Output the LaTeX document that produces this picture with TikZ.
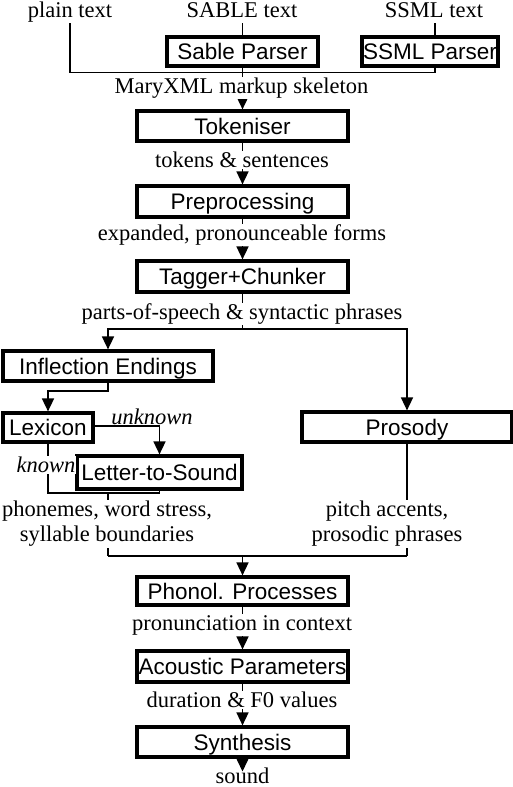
\documentclass[tikz,border=0pt]{standalone}
\usepackage{fontspec}
\setmainfont{Liberation Serif}
\setsansfont{Liberation Sans}
\usetikzlibrary{arrows.meta}
\begin{document}
\begin{tikzpicture}[x=1pt,y=-1pt,
  box/.style={draw, line width=3.2pt, font=\sffamily\fontsize{22.5}{25}\selectfont, inner sep=0pt, text height=16pt, text depth=0pt, anchor=center},
  conn/.style={line width=1.6pt},
  arr/.style={conn, -{Triangle[width=12pt,length=13pt]}},
  lbl/.style={fill=white, inner sep=1pt, font=\fontsize{22.5}{25}\selectfont, align=center},
  ilbl/.style={lbl, font=\itshape\fontsize{22.5}{25}\selectfont},
  tlbl/.style={inner sep=0pt, font=\fontsize{22.5}{25}\selectfont}]
\useasboundingbox (0,0) rectangle (512,787);
% top inputs
\node[tlbl, anchor=base] (pt) at (70,17.5) {plain text};
\node[tlbl, anchor=base] (st) at (242,17.5) {SABLE text};
\node[tlbl, anchor=base] (sst) at (434,17.5) {SSML text};
\coordinate (ptb) at (70,23);
\coordinate (stb) at (242.5,23);
\coordinate (sstb) at (435,23);
% boxes
\node[box, minimum width=151pt, minimum height=29pt] (sable) at (242.5,51.5) {Sable Parser};
\node[box, minimum width=136pt, minimum height=29pt] (ssml) at (430,51.5) {SSML Parser};
\node[box, minimum width=211pt, minimum height=30pt] (tok) at (242.5,126) {Tokeniser};
\node[box, minimum width=211pt, minimum height=31pt] (pre) at (242.5,201.5) {Preprocessing};
\node[box, minimum width=211pt, minimum height=31pt] (tag) at (242.5,276.5) {Tagger+Chunker};
\node[box, minimum width=210pt, minimum height=30pt] (infl) at (108,366) {Inflection Endings};
\node[box, minimum width=90pt, minimum height=29pt] (lex) at (48,427.5) {Lexicon};
\node[box, minimum width=165pt, minimum height=33pt] (lts) at (159.5,472.5) {Letter-to-Sound};
\node[box, minimum width=210pt, minimum height=30pt] (pros) at (407,427) {Prosody};
\node[box, minimum width=211pt, minimum height=28pt] (phon) at (242.5,591) {Phonol. Processes};
\node[box, minimum width=211pt, minimum height=31pt] (acou) at (242.5,666.5) {Acoustic Parameters};
\node[box, minimum width=211pt, minimum height=30pt] (synth) at (242.5,742) {Synthesis};
\node[tlbl, anchor=base] (sound) at (242.5,783.5) {sound};
\coordinate (snd) at (242.5,771.5);
% junctions
\coordinate (j1) at (242.5,72.5);
\coordinate (j2) at (242.5,329);
\coordinate (j3) at (108,391);
\coordinate (j4) at (108,493);
\coordinate (j5) at (242.5,556);
% connectors
\draw[conn] (ptb) |- (sstb |- j1) -- (sstb |- ssml.south);
\draw[conn] (stb) -- (stb |- sable.north);
\draw[conn] (sstb) -- (sstb |- ssml.north);
\draw[conn] (sable.south) -- (j1);
\draw[arr] (j1) -- (tok.north);
\draw[arr] (tok.south) -- (pre.north);
\draw[arr] (pre.south) -- (tag.north);
\draw[conn] (tag.south) -- (j2);
\draw[arr] (j2) -| (infl.north);
\draw[arr] (j2) -| (pros.north);
\draw[arr] (infl.south) -- (j3) -| (lex.north);
\draw[arr] (lex.east |- 0,426) -| (lts.north);
\draw[conn] (lex.south) |- (lts.south |- j4) -- (lts.south);
\draw[conn] (j4) -- (j4 |- j5);
\draw[conn] (pros.south) -- (pros.south |- j5);
\draw[conn] (j4 |- j5) -- (pros.south |- j5);
\draw[arr] (j5) -- (phon.north);
\draw[arr] (phon.south) -- (acou.north);
\draw[arr] (acou.south) -- (synth.north);
\draw[arr] (synth.south) -- (snd);
% labels
\node[lbl] (l1) at (241.5,88) {MaryXML markup skeleton};
\node[lbl] (l2) at (242,160) {tokens \& sentences};
\node[lbl] (l3) at (242,235) {expanded, pronounceable forms};
\node[lbl] (l4) at (242,314) {parts-of-speech \& syntactic phrases};
\node[ilbl, fill=none] (l5) at (152,417) {unknown};
\node[ilbl] (l6) at (46,465) {known};
\node[lbl] (l7) at (107,524) {phonemes, word stress,\\syllable boundaries};
\node[lbl] (l8) at (387,524) {pitch accents,\\prosodic phrases};
\node[lbl] (l9) at (242,625) {pronunciation in context};
\node[lbl] (l10) at (242,700) {duration \& F0 values};
\end{tikzpicture}
\end{document}
